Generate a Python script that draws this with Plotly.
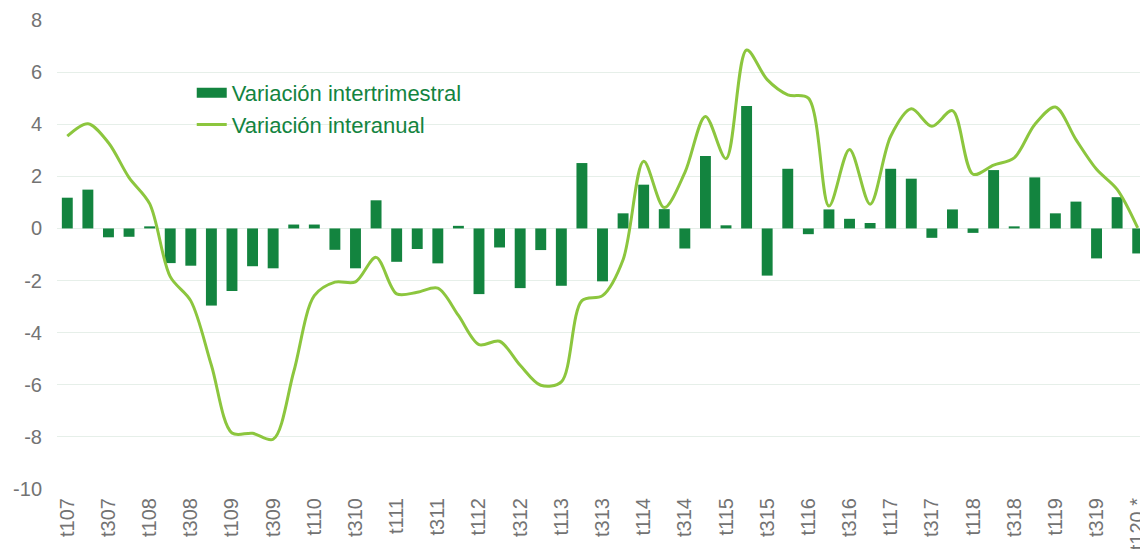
import plotly.graph_objects as go

years = ["07", "08", "09", "10", "11", "12", "13", "14", "15", "16", "17", "18", "19"]
categories = [f"t{q}{y}" for y in years for q in range(1, 5)] + ["t120"]

intertrimestral = [
    1.18, 1.49, -0.34, -0.32,
    0.08, -1.33, -1.43, -2.96,
    -2.40, -1.45, -1.53, 0.15,
    0.15, -0.82, -1.53, 1.08,
    -1.28, -0.79, -1.34, 0.10,
    -2.52, -0.73, -2.29, -0.83,
    -2.20, 2.51, -2.03, 0.58,
    1.68, 0.74, -0.77, 2.78,
    0.12, 4.70, -1.81, 2.29,
    -0.22, 0.73, 0.37, 0.21,
    2.29, 1.91, -0.36, 0.73,
    -0.17, 2.24, 0.08, 1.96,
    0.58, 1.03, -1.15, 1.20,
    -0.96,
]

interanual = [
    3.54, 4.02, 3.29, 1.95,
    0.95, -1.85, -2.78, -5.25,
    -7.85, -7.86, -8.09, -5.50,
    -2.58, -2.06, -2.05, -1.11,
    -2.51, -2.45, -2.29, -3.34,
    -4.46, -4.33, -5.25, -6.02,
    -5.89, -2.77, -2.58, -1.20,
    2.58, 0.80, 2.14, 4.30,
    2.68, 6.85, 5.71, 5.13,
    5.00, 0.86, 3.03, 0.93,
    3.54, 4.59, 3.92, 4.52,
    2.08, 2.43, 2.71, 3.99,
    4.66, 3.41, 2.27, 1.50,
    0.02,
]

tick_vals = categories[::2]
tick_text = [c if c != "t120" else "t120 *" for c in tick_vals]

y_ticks = [8, 6, 4, 2, 0, -2, -4, -6, -8, -10]
y_tick_text = [str(v) for v in y_ticks]

bar_color = "#13843f"
line_color = "#8cc63e"
text_gray = "#737373"

fig = go.Figure()
fig.add_trace(go.Bar(
    x=categories, y=intertrimestral, name="Variación intertrimestral",
    marker=dict(color=bar_color, line=dict(width=0)),
    showlegend=False, legendgroup="bars",
))
# legend entry for the bars (wide rectangle swatch, as in the original)
fig.add_trace(go.Scatter(
    x=[None], y=[None], name="Variación intertrimestral",
    mode="lines", line=dict(color=bar_color, width=13),
    legendgroup="bars", hoverinfo="skip",
))
fig.add_trace(go.Scatter(
    x=categories, y=interanual, name="Variación interanual",
    mode="lines", line=dict(color=line_color, width=3, shape="spline", smoothing=0.9),
))

fig.update_layout(
    width=1140, height=541,
    margin=dict(l=49, r=0, t=12, b=60),
    paper_bgcolor="white", plot_bgcolor="white",
    bargap=0.47,
    font=dict(family="Liberation Sans, Arial, sans-serif", color=text_gray, size=20),
    showlegend=True,
    legend=dict(
        x=0.1235, y=0.889, xanchor="left", yanchor="top",
        bgcolor="rgba(0,0,0,0)",
        font=dict(size=22, color=bar_color),
        itemwidth=30, tracegroupgap=0,
    ),
    xaxis=dict(
        type="category", categoryorder="array", categoryarray=categories,
        tickmode="array", tickvals=tick_vals, ticktext=tick_text,
        tickangle=-90, showgrid=False, zeroline=False, showline=False,
        ticks="", ticklabelstandoff=4,
        tickfont=dict(size=20, color=text_gray),
    ),
    yaxis=dict(
        range=[-10, 8], tickmode="array", tickvals=y_ticks, ticktext=y_tick_text,
        showgrid=True, gridcolor="#e6efe9", gridwidth=1,
        zeroline=True, zerolinecolor="#e6efe9", zerolinewidth=1,
        showline=False, ticks="", ticklabelstandoff=14,
        tickfont=dict(size=20, color=text_gray),
    ),
)

fig.write_html("out.html")
